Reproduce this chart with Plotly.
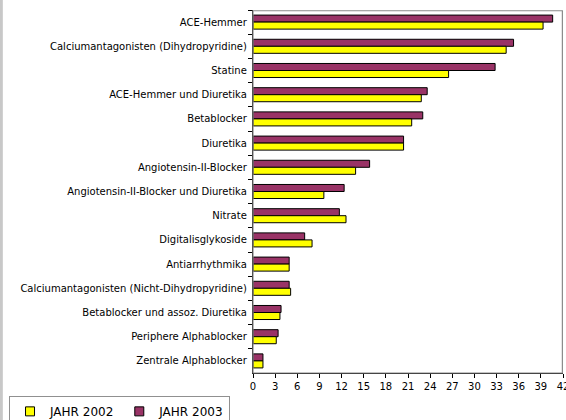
import plotly.graph_objects as go

categories = [
    "ACE-Hemmer",
    "Calciumantagonisten (Dihydropyridine)",
    "Statine",
    "ACE-Hemmer und Diuretika",
    "Betablocker",
    "Diuretika",
    "Angiotensin-II-Blocker",
    "Angiotensin-II-Blocker und Diuretika",
    "Nitrate",
    "Digitalisglykoside",
    "Antiarrhythmika",
    "Calciumantagonisten (Nicht-Dihydropyridine)",
    "Betablocker und assoz. Diuretika",
    "Periphere Alphablocker",
    "Zentrale Alphablocker",
]
jahr_2002 = [39.3, 34.3, 26.5, 22.8, 21.5, 20.4, 13.9, 9.6, 12.6, 8.0, 4.9, 5.1, 3.65, 3.15, 1.35]
jahr_2003 = [40.6, 35.3, 32.8, 23.6, 23.0, 20.4, 15.8, 12.35, 11.7, 7.0, 4.9, 4.9, 3.8, 3.4, 1.35]
x_ticks = list(range(0, 43, 3))

COL_2002 = "#FFFF00"
COL_2003 = "#993366"

fig = go.Figure()
fig.add_trace(go.Bar(
    y=categories, x=jahr_2003, orientation="h", name="JAHR 2003",
    marker=dict(color=COL_2003, line=dict(color="#000000", width=1)),
    showlegend=False,
))
fig.add_trace(go.Bar(
    y=categories, x=jahr_2002, orientation="h", name="JAHR 2002",
    marker=dict(color=COL_2002, line=dict(color="#000000", width=1)),
    showlegend=False,
))
# legend entries with small square symbols
for name, col in [("JAHR 2002", COL_2002), ("JAHR 2003", COL_2003)]:
    fig.add_trace(go.Scatter(
        x=[None], y=[None], mode="markers", name=name,
        marker=dict(symbol="square", size=9, color=col, line=dict(color="#000000", width=1)),
        showlegend=True,
    ))

fig.update_layout(
    width=566, height=420,
    margin=dict(l=253, r=3, t=10, b=47, autoexpand=False),
    paper_bgcolor="white", plot_bgcolor="white",
    barmode="group", bargap=0.42, bargroupgap=0,
    font=dict(family="DejaVu Sans, Verdana, sans-serif", size=10, color="#000000"),
    showlegend=True,
    legend=dict(
        orientation="h", x=-0.787, xanchor="left", y=-0.063, yanchor="top",
        bordercolor="#909090", borderwidth=1, font=dict(size=12),
        itemwidth=30, tracegroupgap=0, traceorder="normal",
    ),
    xaxis=dict(
        range=[0, 42], tickvals=x_ticks, ticks="outside", ticklen=4,
        tickcolor="#000000", showline=True, linecolor="#000000", linewidth=1,
        showgrid=False, zeroline=False, mirror=False, automargin=False,
        tickfont=dict(size=10), ticklabeloverflow="allow",
    ),
    yaxis=dict(
        autorange="reversed", ticks="outside", ticklen=4, tickson="boundaries",
        tickcolor="#000000", showline=True, linecolor="#000000", linewidth=1,
        showgrid=False, tickfont=dict(size=10), ticksuffix=" ", automargin=False,
    ),
    shapes=[
        dict(type="rect", xref="paper", yref="paper", x0=0, x1=0.998, y0=0, y1=0.998,
             line=dict(color="#8a8a8a", width=1.2), fillcolor="rgba(0,0,0,0)", layer="above"),
        dict(type="rect", xref="paper", yref="paper", x0=-0.817, x1=-0.807, y0=-0.2, y1=1.05,
             fillcolor="#c8c8c8", line=dict(width=0)),
    ],
)

fig.write_html(
    "out.html",
    config={"displayModeBar": False},
    post_script="document.body.style.margin='0';document.body.style.padding='0';",
)
